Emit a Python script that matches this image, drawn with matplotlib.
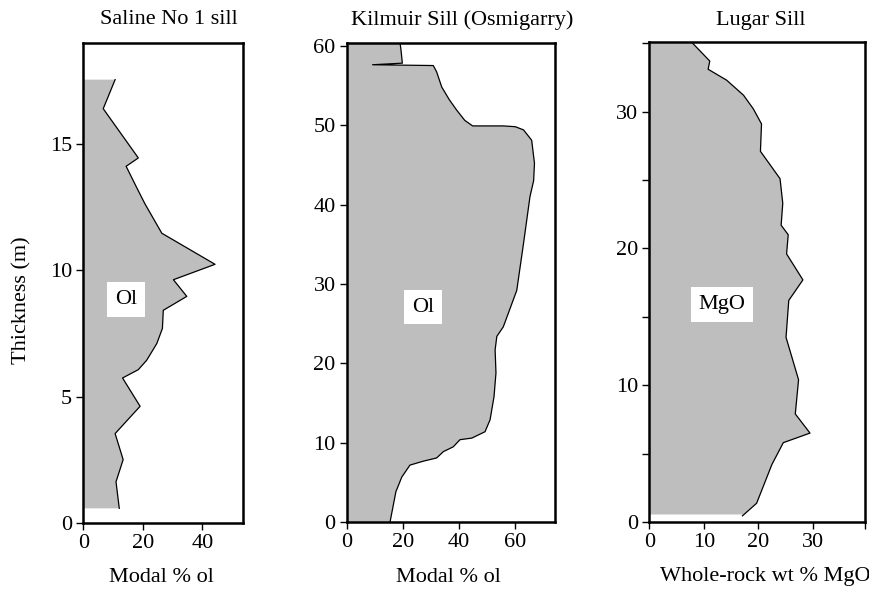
import matplotlib
matplotlib.use("Agg")
import matplotlib.pyplot as plt

plt.rcParams['font.family'] = ['Liberation Serif', 'DejaVu Serif']
plt.rcParams['font.size'] = 16

# ---- Data ----
# Saline No 1 sill: modal % olivine vs height (m)
saline_ol = [10.7, 6.7, 18.5, 14.4, 17.9, 20.7, 26.4, 44.3, 30.3, 34.8, 26.9,
             26.6, 24.7, 21.3, 18.5, 13.2, 19.1, 10.7, 13.4, 11.0, 12.1]
saline_h = [17.55, 16.4, 14.45, 14.12, 13.29, 12.64, 11.47, 10.24, 9.63, 8.97, 8.42,
            7.70, 7.10, 6.44, 6.07, 5.74, 4.62, 3.54, 2.51, 1.63, 0.58]

# Kilmuir Sill (Osmigarry): modal % olivine vs height (m)
kilmuir_ol = [19.0, 19.3, 19.8, 9.2, 30.8, 32.0, 33.8, 36.5, 39.1, 42.0, 44.8, 55.7,
              60.0, 62.9, 65.8, 66.8, 66.5, 65.2, 62.9, 60.5, 58.0, 55.7, 53.4, 52.8,
              53.1, 52.4, 51.0, 49.2, 44.5, 40.3, 37.9, 34.4, 32.0, 27.3, 22.5, 19.6,
              17.5, 15.4]
kilmuir_h = [60.3, 59.5, 57.8, 57.6, 57.5, 56.7, 54.8, 53.2, 51.9, 50.6, 49.9, 49.9,
             49.8, 49.4, 48.1, 45.2, 43.0, 41.0, 35.1, 29.2, 26.8, 24.6, 23.4, 21.7,
             18.8, 15.8, 12.9, 11.4, 10.6, 10.4, 9.5, 8.9, 8.1, 7.7, 7.2, 5.7,
             3.85, 0.0]

# Lugar Sill: whole-rock wt % MgO vs height (m)
lugar_mgo = [7.96, 11.1, 10.8, 14.2, 17.3, 19.1, 20.6, 20.4, 24.0, 24.5, 24.2, 25.5,
             25.2, 28.2, 25.6, 25.1, 27.4, 26.8, 29.5, 24.6, 22.5, 19.7, 17.1]
lugar_h = [35.0, 33.7, 33.1, 32.3, 31.2, 30.2, 29.1, 27.1, 25.1, 23.3, 21.7, 21.0,
           19.6, 17.7, 16.2, 13.5, 10.4, 7.9, 6.5, 5.8, 4.2, 1.37, 0.45]

titles = ["Saline No 1 sill", "Kilmuir Sill (Osmigarry)", "Lugar Sill"]
xlabels = ["Modal % ol", "Modal % ol", "Whole-rock wt % MgO"]
box_labels = ["Ol", "Ol", "MgO"]

fill_col = '#bebebe'

fig = plt.figure(figsize=(8.7, 5.89), dpi=100)

W, H = 870.0, 589.0
def rect(l, r, t, b):
    return [l / W, 1 - b / H, (r - l) / W, (b - t) / H]

ax1 = fig.add_axes(rect(83.3, 243, 43, 523))
ax2 = fig.add_axes(rect(346.7, 555, 43.3, 522.3))
ax3 = fig.add_axes(rect(649.3, 865.3, 42.3, 522))

def draw(ax, xs, ys, bottom):
    px = [0] + list(xs) + [xs[-1], 0]
    py = [ys[0]] + list(ys) + [bottom, bottom]
    ax.fill(px, py, facecolor=fill_col, edgecolor='none', zorder=1)
    ax.plot(xs, ys, color='black', lw=0.9, zorder=2)

draw(ax1, saline_ol, saline_h, saline_h[-1])
draw(ax2, kilmuir_ol, kilmuir_h, 0.0)
draw(ax3, lugar_mgo, lugar_h, 0.55)

ax1.set_xlim(0, 53.7); ax1.set_ylim(0, 19.0)
ax1.set_xticks([0, 20, 40]); ax1.set_yticks([0, 5, 10, 15])

ax2.set_xlim(0, 74.1); ax2.set_ylim(0, 60.3)
ax2.set_xticks([0, 20, 40, 60]); ax2.set_yticks([0, 10, 20, 30, 40, 50, 60])

ax3.set_xlim(0, 39.65); ax3.set_ylim(0, 35.07)
ax3.set_xticks([0, 10, 20, 30, 40 - 0.35])
ax3.set_xticklabels(['0', '10', '20', '30', ''])
ax3.set_yticks([0, 5, 10, 15, 20, 25, 30, 35])
ax3.set_yticklabels(['0', '', '10', '', '20', '', '30', ''])

for ax in (ax1, ax2, ax3):
    for s in ax.spines.values():
        s.set_linewidth(1.8)
        s.set_color('black')
    ax.tick_params(direction='out', length=5, width=1, pad=3, labelsize=16)

box_pos = [(14.4, 8.85), (27.2, 27.1), (13.3, 15.9)]
for ax, lab, (bx, by) in zip((ax1, ax2, ax3), box_labels, box_pos):
    ax.text(bx, by, lab, ha='center', va='center', fontsize=16, zorder=3,
            bbox=dict(facecolor='white', edgecolor='none', boxstyle='square,pad=0.35'))

title_x = [168.5, 462, 761]
for t, tx in zip(titles, title_x):
    fig.text(tx / W, 1 - 20 / H, t, ha='center', va='center', fontsize=16)

xl_x = [161, 448, 765]
for t, tx in zip(xlabels, xl_x):
    fig.text(tx / W, 1 - 577 / H, t, ha='center', va='center', fontsize=16)

fig.text(22 / W, 1 - 300 / H, "Thickness (m)", rotation=90, ha='center', va='center', fontsize=16)

fig.savefig("out.png", dpi=100)
